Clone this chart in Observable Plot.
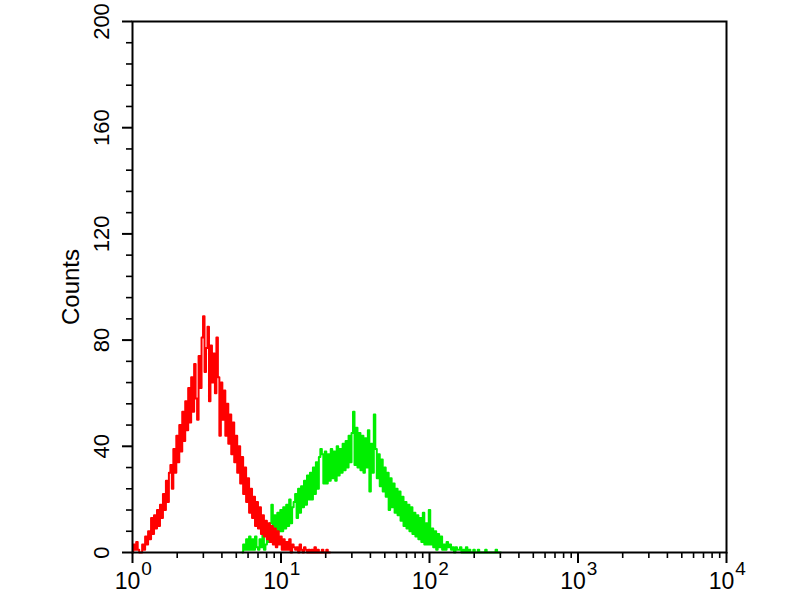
<!DOCTYPE html>
<html>
<head>
<meta charset="utf-8">
<script src="https://cdn.jsdelivr.net/npm/d3@7"></script>
<script src="https://cdn.jsdelivr.net/npm/@observablehq/plot@0.6"></script>
<style>
  html, body { margin: 0; padding: 0; background: #fff; }
</style>
</head>
<body>
<div id="chart"></div>
<script>
// Histogram channels: counts per log10 bin (bin width 0.01 decade)
const binStep = 0.01;

// Red histogram (isotype control), starts at 10^0.00
const redStartLog = 0.00;
const redCounts = [
  0,3,1,4,1,0,0,3,1,6,
  3,8,5,13,7,14,9,16,10,18,
  13,22,16,27,19,30,33,24,39,30,
  44,34,48,38,53,42,57,46,62,49,
  66,53,71,58,50,74,62,81,89,68,
  77,85,57,78,64,75,60,81,66,44,
  64,50,61,44,56,41,52,37,49,34,
  44,30,40,26,36,22,32,19,28,15,
  24,13,21,10,19,9,17,7,14,6,
  12,5,11,4,10,3,9,2,8,3,
  6,1,5,1,4,1,5,0,3,2,
  1,2,0,3,1,0,2,1,0,1,
  0,1,0,2,0,1,0,0,1,0,
  0,1,0,0
];

// Green histogram (antibody stained), starts at 10^0.74
const greenStartLog = 0.74;
const greenCounts = [
  0,3,1,5,1,6,
  1,5,1,6,2,1,5,2,7,1,
  3,9,4,11,18,6,14,7,15,8,
  16,8,17,9,18,10,20,11,17,19,
  22,13,24,15,25,17,27,18,29,20,
  30,20,32,22,34,24,36,39,37,26,
  38,26,37,27,39,28,38,27,40,29,
  39,30,41,31,42,32,44,34,45,53,
  33,47,32,45,31,44,30,43,32,46,
  23,41,30,52,39,28,37,25,35,23,
  32,21,30,16,28,17,26,15,24,14,
  23,12,21,10,19,9,18,8,17,7,
  15,6,14,5,13,4,15,3,11,3,
  16,3,9,2,8,1,7,2,6,1,
  3,1,4,2,3,1,2,0,2,1,
  1,2,0,1,0,2,0,1,0,0,
  1,0,0,1,0,0,0,0,1,0,
  0,0,0,0,0,1,0,0,0
];

// Axis ticks
const xMajorTicks = [1, 10, 100, 1000, 10000];
const xExponents = ["0", "1", "2", "3", "4"];
const xMinorTicks = [2,3,4,5,6,7,8,9,20,30,40,50,60,70,80,90,200,300,400,500,600,700,800,900,2000,3000,4000,5000,6000,7000,8000,9000];
const yMajorTicks = [0, 40, 80, 120, 160, 200];
const yMinorTicks = [8,16,24,32,48,56,64,72,88,96,104,112,128,136,144,152,168,176,184,192];
const yTitle = "Counts";

const toRows = (start, counts) => counts.map((c, i) => ({x: Math.pow(10, start + i * binStep), y: c}));
const redRows = toRows(redStartLog, redCounts);
const greenRows = toRows(greenStartLog, greenCounts);
const xLabelRows = xMajorTicks.map((v, i) => ({x: v, e: xExponents[i]}));

const labelFont = "'Liberation Sans', Arial, sans-serif";

const chart = Plot.plot({
  width: 800,
  height: 600,
  marginLeft: 132,
  marginRight: 74,
  marginTop: 21,
  marginBottom: 48,
  style: {fontFamily: labelFont, fontSize: "20px", background: "#fff", color: "#000"},
  x: {type: "log", domain: [1, 10000], axis: null, label: null},
  y: {type: "linear", domain: [0, 200], axis: null, label: null},
  marks: [
    Plot.line(greenRows, {x: "x", y: "y", stroke: "#00ee00", strokeWidth: 2, curve: "step"}),
    Plot.line(redRows, {x: "x", y: "y", stroke: "#ff0000", strokeWidth: 2, curve: "step"}),
    // x ticks
    Plot.axisX({ticks: xMajorTicks, tickSize: 11, tickFormat: () => "", strokeWidth: 2, anchor: "bottom", label: null}),
    Plot.axisX({ticks: xMinorTicks, tickSize: 6, tickFormat: () => "", strokeWidth: 1.6, anchor: "bottom", label: null}),
    // y ticks
    Plot.axisY({ticks: yMajorTicks, tickSize: 10, tickFormat: () => "", strokeWidth: 2, anchor: "left", label: null}),
    Plot.axisY({ticks: yMinorTicks, tickSize: 6, tickFormat: () => "", strokeWidth: 1.6, anchor: "left", label: null}),
    // y tick labels (rotated)
    Plot.text(yMajorTicks, {y: d => d, text: d => String(d), frameAnchor: "left", dx: -31, rotate: -90, textAnchor: "middle", fontSize: 22, fill: "#000"}),
    // y title
    Plot.text([100], {y: d => d, text: () => yTitle, frameAnchor: "left", dx: -61, rotate: -90, textAnchor: "middle", fontSize: 24, fill: "#000"}),
    // x tick labels: base and exponent
    Plot.text(xLabelRows, {x: "x", text: () => "10", frameAnchor: "bottom", dy: 36, dx: -5, textAnchor: "middle", fontSize: 23, fill: "#000"}),
    Plot.text(xLabelRows, {x: "x", text: "e", frameAnchor: "bottom", dy: 22, dx: 14, textAnchor: "middle", fontSize: 19, fill: "#000"}),
    Plot.frame({stroke: "#000", strokeWidth: 2})
  ]
});
document.getElementById("chart").appendChild(chart);
</script>
</body>
</html>
